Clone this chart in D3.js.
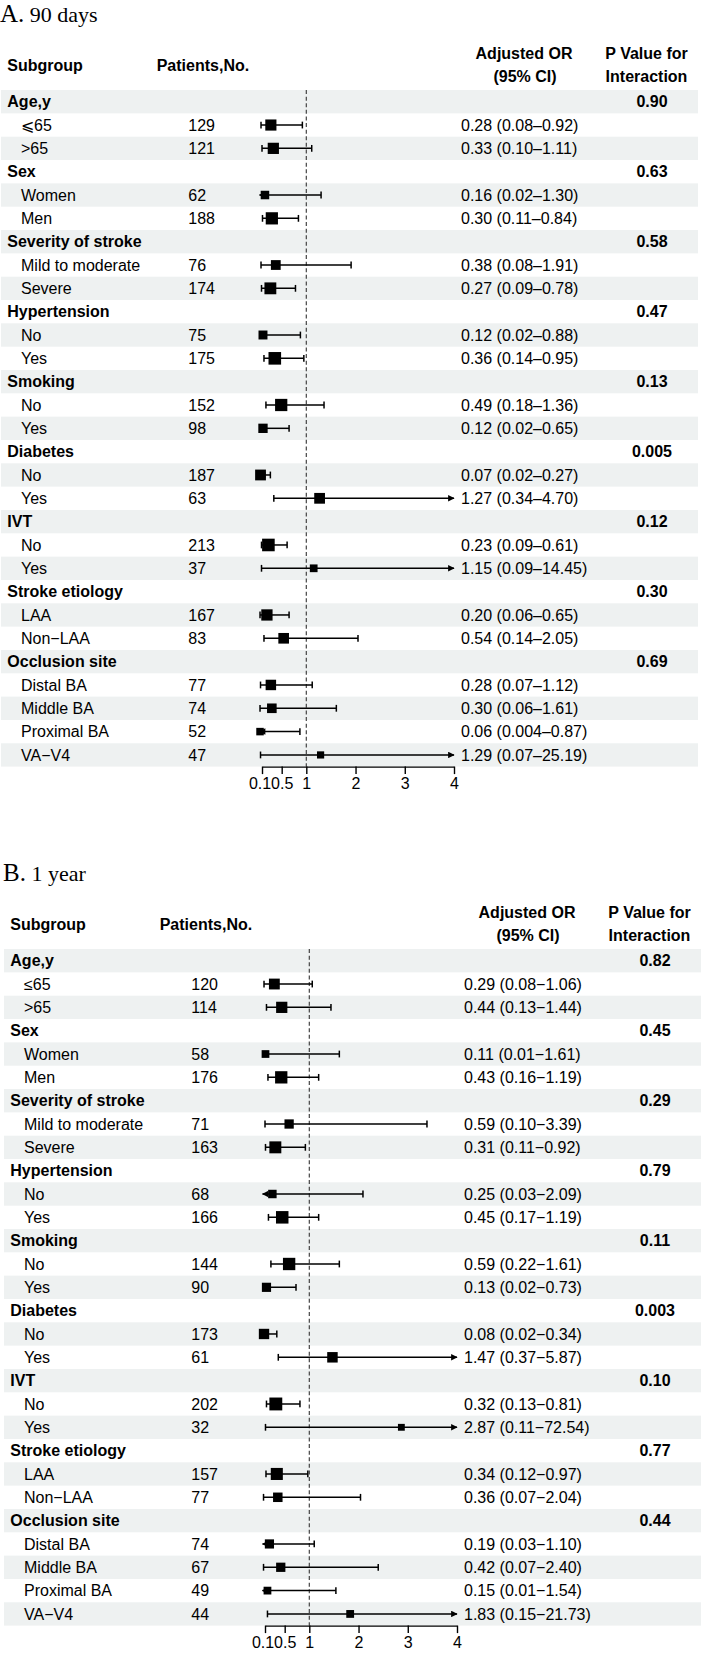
<!DOCTYPE html>
<html>
<head>
<meta charset="utf-8">
<script src="https://cdn.jsdelivr.net/npm/d3@7"></script>
<style>
  html, body { margin: 0; padding: 0; background: #fff; }
  svg { display: block; }
  text { font-family: "Liberation Sans", Arial, Helvetica, sans-serif; fill: #000; }
</style>
</head>
<body>
<svg id="chart" width="701" height="1653"></svg>
<script>
// ---------------- DATA ----------------
const isGroup = [true,false,false, true,false,false, true,false,false, true,false,false,
                 true,false,false, true,false,false, true,false,false, true,false,false,
                 true,false,false,false,false];

const subgroupsA = ["Age,y","⩽65",">65","Sex","Women","Men","Severity of stroke","Mild to moderate","Severe",
  "Hypertension","No","Yes","Smoking","No","Yes","Diabetes","No","Yes","IVT","No","Yes",
  "Stroke etiology","LAA","Non−LAA","Occlusion site","Distal BA","Middle BA","Proximal BA","VA−V4"];
const subgroupsB = ["Age,y","≤65",">65","Sex","Women","Men","Severity of stroke","Mild to moderate","Severe",
  "Hypertension","No","Yes","Smoking","No","Yes","Diabetes","No","Yes","IVT","No","Yes",
  "Stroke etiology","LAA","Non−LAA","Occlusion site","Distal BA","Middle BA","Proximal BA","VA−V4"];

// Panel A: 90 days
const patientsA = [null,129,121, null,62,188, null,76,174, null,75,175, null,152,98, null,187,63,
                   null,213,37, null,167,83, null,77,74,52,47];
const orA  = [null,0.28,0.33, null,0.16,0.30, null,0.38,0.27, null,0.12,0.36, null,0.49,0.12, null,0.07,1.27,
              null,0.23,1.15, null,0.20,0.54, null,0.28,0.30,0.06,1.29];
const loA  = [null,0.08,0.10, null,0.02,0.11, null,0.08,0.09, null,0.02,0.14, null,0.18,0.02, null,0.02,0.34,
              null,0.09,0.09, null,0.06,0.14, null,0.07,0.06,0.004,0.07];
const hiA  = [null,0.92,1.11, null,1.30,0.84, null,1.91,0.78, null,0.88,0.95, null,1.36,0.65, null,0.27,4.70,
              null,0.61,14.45, null,0.65,2.05, null,1.12,1.61,0.87,25.19];
const pA   = [0.90,null,null, 0.63,null,null, 0.58,null,null, 0.47,null,null, 0.13,null,null, 0.005,null,null,
              0.12,null,null, 0.30,null,null, 0.69,null,null,null,null];

// Panel B: 1 year
const patientsB = [null,120,114, null,58,176, null,71,163, null,68,166, null,144,90, null,173,61,
                   null,202,32, null,157,77, null,74,67,49,44];
const orB  = [null,0.29,0.44, null,0.11,0.43, null,0.59,0.31, null,0.25,0.45, null,0.59,0.13, null,0.08,1.47,
              null,0.32,2.87, null,0.34,0.36, null,0.19,0.42,0.15,1.83];
const loB  = [null,0.08,0.13, null,0.01,0.16, null,0.10,0.11, null,0.03,0.17, null,0.22,0.02, null,0.02,0.37,
              null,0.13,0.11, null,0.12,0.07, null,0.03,0.07,0.01,0.15];
const hiB  = [null,1.06,1.44, null,1.61,1.19, null,3.39,0.92, null,2.09,1.19, null,1.61,0.73, null,0.34,5.87,
              null,0.81,72.54, null,0.97,2.04, null,1.10,2.40,1.54,21.73];
const pB   = [0.82,null,null, 0.45,null,null, 0.29,null,null, 0.79,null,null, 0.11,null,null, 0.003,null,null,
              0.10,null,null, 0.77,null,null, 0.44,null,null,null,null];

const axisTicks = [0.1, 0.5, 1, 2, 3, 4];
const axisTickLabels = ["0.1", "0.5", "1", "2", "3", "4"];
const clipLow = 0.05, clipHigh = 4;

// ---------------- DRAW ----------------
const svg = d3.select("#chart");

// arrow markers
const defs = svg.append("defs");
defs.append("marker").attr("id","arrR").attr("viewBox","0 0 10 10")
  .attr("refX",9).attr("refY",5).attr("markerWidth",7).attr("markerHeight",6.5)
  .attr("markerUnits","userSpaceOnUse").attr("orient","auto")
  .append("path").attr("d","M0,0 L10,5 L0,10 Z").attr("fill","#000");
defs.append("marker").attr("id","arrL").attr("viewBox","0 0 10 10")
  .attr("refX",1).attr("refY",5).attr("markerWidth",7).attr("markerHeight",6.5)
  .attr("markerUnits","userSpaceOnUse").attr("orient","auto")
  .append("path").attr("d","M10,0 L0,5 L10,10 Z").attr("fill","#000");

function fmt(v){ return v < 0.01 ? v.toFixed(3) : v.toFixed(2); }

function drawPanel(cfg){
  const g = svg.append("g").attr("transform", `translate(${cfg.dx},${cfg.dy})`);
  const n = cfg.labels.length;
  const rowH = 23.33, row0 = 101.7;
  const y = i => row0 + i * rowH;
  const x = d3.scaleLinear().domain([0.1, 4]).range([262, 454]);

  // title
  const t = g.append("text").attr("x", 0).attr("y", 21.7)
    .style("font-family", '"Liberation Serif", "DejaVu Serif", serif');
  t.append("tspan").text(cfg.letter).style("font-size","25px");
  t.append("tspan").text(" " + cfg.title).style("font-size","22px");

  // header
  const hdr = [
    {t:"Subgroup", x:7.3, y:65, a:"start"},
    {t:"Patients,No.", x:156.7, y:65, a:"start"},
    {t:"Adjusted OR", x:524, y:53.3, a:"middle"},
    {t:"(95% CI)", x:525, y:76.7, a:"middle"},
    {t:"P Value for", x:646.5, y:53.3, a:"middle"},
    {t:"Interaction", x:646.5, y:76.7, a:"middle"}
  ];
  g.selectAll("text.hdr").data(hdr).join("text").attr("class","hdr")
    .attr("x", d=>d.x).attr("y", d=>d.y).attr("dy","0.35em")
    .attr("text-anchor", d=>d.a).style("font-size","16px").style("font-weight","bold")
    .text(d=>d.t);

  const idx = d3.range(n);
  // bands
  g.selectAll("rect.band").data(idx.filter(i => i % 2 === 0)).join("rect").attr("class","band")
    .attr("x", 1).attr("width", 697).attr("y", i => y(i) - rowH/2).attr("height", rowH)
    .attr("fill", "#eef1f1");

  // labels
  g.selectAll("text.lab").data(idx).join("text").attr("class","lab")
    .attr("x", i => isGroup[i] ? 7.3 : 21).attr("y", i => y(i)).attr("dy","0.35em")
    .style("font-size","16px").style("font-weight", i => isGroup[i] ? "bold" : "normal")
    .text(i => cfg.labels[i]);

  // patients
  g.selectAll("text.pat").data(idx.filter(i => cfg.patients[i] != null)).join("text").attr("class","pat")
    .attr("x", 188.3).attr("y", i => y(i)).attr("dy","0.35em").style("font-size","16px")
    .text(i => cfg.patients[i]);

  // OR text
  g.selectAll("text.ort").data(idx.filter(i => cfg.or[i] != null)).join("text").attr("class","ort")
    .attr("x", 461).attr("y", i => y(i)).attr("dy","0.35em").style("font-size","16px")
    .text(i => `${fmt(cfg.or[i])} (${fmt(cfg.lo[i])}${cfg.dash}${fmt(cfg.hi[i])})`);

  // P values
  g.selectAll("text.pv").data(idx.filter(i => cfg.p[i] != null)).join("text").attr("class","pv")
    .attr("x", 652).attr("y", i => y(i)).attr("dy","0.35em").attr("text-anchor","middle")
    .style("font-size","16px").style("font-weight","bold")
    .text(i => fmt(cfg.p[i]));

  // reference dashed line
  const axisY = y(n - 1) + rowH / 2;
  g.append("line").attr("x1", x(1)).attr("x2", x(1))
    .attr("y1", y(0) - rowH/2).attr("y2", axisY)
    .attr("stroke", "#444").attr("stroke-width", 1.2).attr("stroke-dasharray", "4,2.6");

  // CIs
  const est = idx.filter(i => cfg.or[i] != null);
  const ci = g.selectAll("g.ci").data(est).join("g").attr("class","ci");
  ci.append("line")
    .attr("x1", i => x(Math.max(cfg.lo[i], clipLow)))
    .attr("x2", i => x(Math.min(cfg.hi[i], clipHigh)))
    .attr("y1", i => y(i)).attr("y2", i => y(i))
    .attr("stroke", "#000").attr("stroke-width", 1.5)
    .attr("marker-end", i => cfg.hi[i] > clipHigh ? "url(#arrR)" : null)
    .attr("marker-start", i => cfg.lo[i] < clipLow ? "url(#arrL)" : null);
  // caps
  ci.filter(i => cfg.lo[i] >= clipLow).append("line")
    .attr("x1", i => x(cfg.lo[i])).attr("x2", i => x(cfg.lo[i]))
    .attr("y1", i => y(i) - 3.4).attr("y2", i => y(i) + 3.4)
    .attr("stroke", "#000").attr("stroke-width", 1.5);
  ci.filter(i => cfg.hi[i] <= clipHigh).append("line")
    .attr("x1", i => x(cfg.hi[i])).attr("x2", i => x(cfg.hi[i]))
    .attr("y1", i => y(i) - 3.4).attr("y2", i => y(i) + 3.4)
    .attr("stroke", "#000").attr("stroke-width", 1.5);
  // squares (size from precision of estimate)
  const sz = i => {
    const se = Math.log(cfg.hi[i] / cfg.lo[i]) / 3.92;
    return Math.max(6, Math.min(13.5, 8.8 / Math.sqrt(se)));
  };
  ci.append("rect")
    .attr("x", i => x(cfg.or[i]) - sz(i)/2).attr("y", i => y(i) - sz(i)/2)
    .attr("width", sz).attr("height", sz).attr("fill", "#000");

  // axis
  const axis = d3.axisBottom(x).tickValues(axisTicks)
    .tickFormat((d, k) => axisTickLabels[k]).tickSize(7.5).tickSizeOuter(0);
  const ag = g.append("g").attr("transform", `translate(0,${axisY})`).call(axis);
  ag.select(".domain").attr("stroke", "#000").attr("stroke-width", 1.4);
  ag.selectAll(".tick line").attr("stroke", "#000").attr("stroke-width", 1.4);
  ag.selectAll(".tick text").attr("y", 11).attr("dy", "0.71em")
    .attr("dx", (d, k) => k === 0 ? -2.5 : 0)
    .style("font-size", "16px").style("font-family", '"Liberation Sans", Arial, sans-serif').attr("fill", "#000");
}

drawPanel({dx:0, dy:0, letter:"A.", title:"90 days", labels:subgroupsA, patients:patientsA,
  or:orA, lo:loA, hi:hiA, p:pA, dash:"–"});
drawPanel({dx:3, dy:859, letter:"B.", title:"1 year", labels:subgroupsB, patients:patientsB,
  or:orB, lo:loB, hi:hiB, p:pB, dash:"−"});
</script>
</body>
</html>
